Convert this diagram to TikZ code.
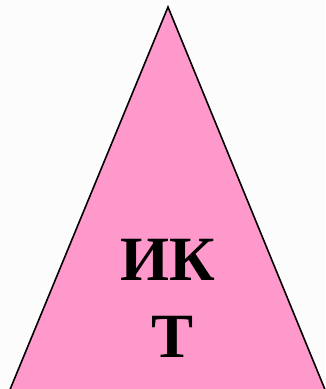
\documentclass[tikz,border=0pt]{standalone}
\usepackage{fontspec}
\setmainfont{Liberation Serif}
\definecolor{tripink}{RGB}{255,153,204}
\definecolor{bgwhite}{RGB}{252,252,252}
\begin{document}
\begin{tikzpicture}[x=1pt,y=-1pt,
  tri/.style={fill=tripink,draw=black,line width=1.6pt,line join=miter},
  lbl/.style={font=\bfseries\fontsize{63}{75}\selectfont,inner sep=0pt,anchor=base}]
\useasboundingbox (0,0) rectangle (325,389);
\fill[bgwhite] (0,0) rectangle (325,389);
\coordinate (apex) at (168,7);
\coordinate (bl) at (9,392);
\coordinate (br) at (326,392);
\draw[tri] (apex) -- (br) -- (bl) -- cycle;
\node[lbl] (l1) at (168,280) {ИК};
\node[lbl] (l2) at (173,357) {Т};
\end{tikzpicture}
\end{document}
